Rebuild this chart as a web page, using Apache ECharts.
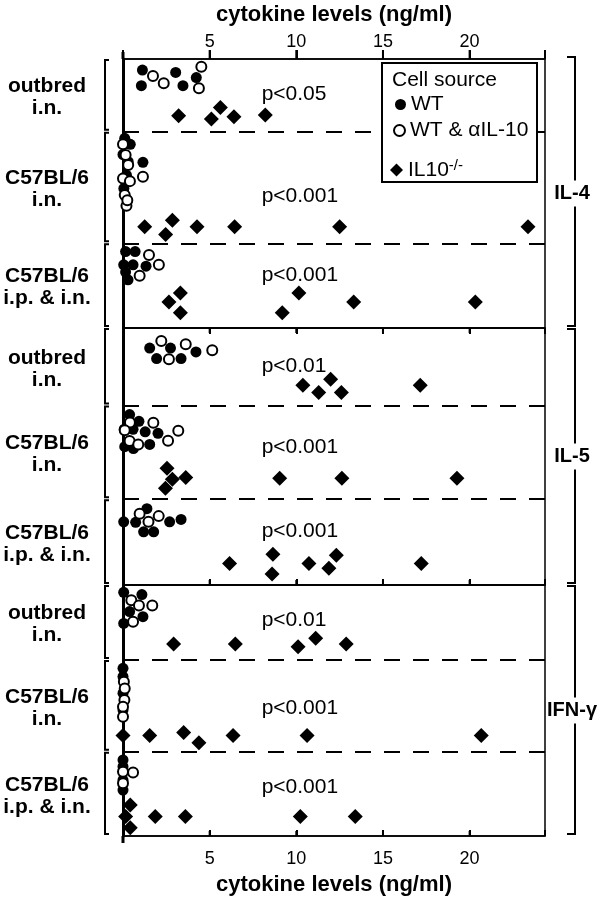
<!DOCTYPE html>
<html><head><meta charset="utf-8">
<script src="https://cdn.jsdelivr.net/npm/echarts@6/dist/echarts.min.js"></script>
<style>html,body{margin:0;padding:0;background:#fff}#c{width:612px;height:899px}</style>
</head><body><div id="c"></div>
<script>
// ---------- data ----------
const xTicks = [5, 10, 15, 20];
const panels = ['IL-4', 'IL-5', 'IFN-γ'];
const groups = ['outbred\ni.n.', 'C57BL/6\ni.n.', 'C57BL/6\ni.p. & i.n.'];
// lane boundaries inside each panel (0 = top, 100 = bottom)
const dividers = [[27.0, 68.5], [30.2, 66.6], [29.9, 66.4]];
const pLabels = [['p<0.05', 'p<0.001', 'p<0.001'], ['p<0.01', 'p<0.001', 'p<0.001'], ['p<0.01', 'p<0.001', 'p<0.001']];
const pLabelLane = [[13.0, 51.0, 80.4], [14.9, 46.2, 78.9], [13.9, 49.1, 80.4]];
const pLabelX = 8;

// [cytokine level ng/ml, lane position]
const IL4_WT = [[1.12,4.1],[1.06,9.9],[3.04,5.0],[3.46,9.9],[4.23,6.9],
  [0.1,29.5],[0.42,31.7],[0.0,35.5],[0.3,38.2],[0.05,48.1],[1.15,38.4],[0.2,43.2],
  [0.15,71.6],[0.7,71.6],[0.04,76.5],[0.58,76.5],[1.33,77.0],[0.29,82.1],[0.15,79.2]];
const IL4_aIL10 = [[1.73,6.3],[2.35,9.0],[4.52,2.9],[4.38,10.9],
  [0.0,31.7],[0.15,35.7],[0.3,39.4],[0.0,44.4],[0.4,45.4],[1.15,43.8],[0.1,50.6],[0.2,54.6],[0.25,52.5],
  [1.5,72.9],[2.07,76.5],[0.96,80.6]];
const IL4_KO = [[3.21,21.1],[5.1,22.3],[5.62,18.0],[6.4,21.5],[8.21,20.8],
  [1.25,62.4],[2.46,65.2],[2.85,59.9],[4.27,62.4],[6.44,62.4],[12.5,62.4],[23.37,62.4],
  [2.65,90.3],[3.31,87.0],[3.31,94.3],[9.19,94.3],[10.15,87.0],[13.31,90.3],[20.33,90.3]];

const IL5_WT = [[1.54,7.8],[1.94,11.9],[2.74,7.8],[3.35,11.9],[4.21,9.3],
  [0.38,33.7],[0.92,36.3],[0.07,39.4],[0.58,39.4],[1.28,40.4],[2.02,41.0],[0.1,46.2],[0.6,46.9],[1.54,45.3],
  [0.04,75.4],[0.73,75.6],[1.38,70.3],[1.19,79.3],[1.77,79.3],[2.69,75.4],[3.35,74.5]];
const IL5_aIL10 = [[2.21,5.1],[2.65,12.2],[3.62,6.3],[5.15,8.7],
  [0.4,36.8],[1.75,36.9],[3.19,40.0],[0.38,44.0],[0.88,45.3],[2.6,43.9],[0.1,39.8],
  [0.96,72.3],[1.47,75.4],[2.06,73.2]];
const IL5_KO = [[10.38,22.3],[11.29,25.1],[11.98,19.9],[12.6,25.1],[17.15,22.3],
  [2.54,54.6],[2.85,58.9],[2.45,62.4],[3.62,58.2],[9.04,58.5],[12.63,58.5],[19.27,58.5],
  [6.15,91.6],[8.65,88.0],[8.6,95.7],[10.73,91.6],[11.88,93.5],[12.31,88.4],[17.21,91.6]];

const IFN_WT = [[0.04,2.9],[1.09,3.8],[0.38,10.6],[1.15,12.6],[0.04,15.3],
  [0,33.2],[0,36.5],[0,43.1],[0,49.8],
  [0,69.7],[0,72.4],[0,77.7],[0,81.7]];
const IFN_aIL10 = [[0.48,6.1],[0.92,8.2],[1.69,8.2],[0.58,14.6],
  [0.05,38.5],[0.1,41.2],[0.08,45.8],[0,48.5],[0,52.5],
  [0,74.4],[0,79.0],[0.58,74.7]];
const IFN_KO = [[2.92,23.5],[6.48,23.5],[10.1,24.6],[11.12,21.2],[12.88,23.5],
  [0,60.0],[1.54,60.0],[3.5,58.8],[4.38,62.8],[6.35,60.0],[10.62,60.0],[20.67,60.0],
  [0.42,87.6],[0.15,92.2],[0.42,96.7],[1.86,92.2],[3.6,92.2],[10.23,92.2],[13.4,92.2]];

const seriesNames = ['WT', 'WT & αIL-10', 'IL10-/-'];
const panelData = [[IL4_WT, IL4_aIL10, IL4_KO], [IL5_WT, IL5_aIL10, IL5_KO], [IFN_WT, IFN_aIL10, IFN_KO]];

// ---------- layout ----------
const FONT = '"Liberation Sans", Arial, Helvetica, sans-serif';
const XMAX = 24.35;
const gridTops = [59, 328, 585];
const gridHeights = [269, 257, 251];
const LEFT = 123, RIGHT = 67;

const chart = echarts.init(document.getElementById('c'), null, {renderer: 'canvas'});

const grids = gridTops.map((t, i) => ({
  left: LEFT, right: RIGHT, top: t, height: gridHeights[i],
  show: true, borderColor: '#000', borderWidth: 1.5, backgroundColor: 'transparent'
}));

const tickStyle = {color: '#000', width: 2};
const baseX = {
  type: 'value', min: 0, max: XMAX, interval: 5,
  axisLine: {show: true, onZero: false, lineStyle: {color: '#000', width: 1.5}},
  splitLine: {show: false},
  axisTick: {show: true, inside: true, length: 6, lineStyle: tickStyle},
  axisLabel: {show: false}
};
const labelStyle = {show: true, fontSize: 18, color: '#000', fontFamily: FONT,
  formatter: v => xTicks.indexOf(v) >= 0 ? String(v) : ''};
const nameStyle = {fontSize: 22, fontWeight: 'bold', color: '#000', fontFamily: FONT};

const xAxes = [
  Object.assign({}, baseX, {gridIndex: 0, position: 'top',
    axisTick: {show: true, inside: false, length: 9, lineStyle: tickStyle},
    axisLabel: Object.assign({}, labelStyle, {margin: 8}),
    name: 'cytokine levels (ng/ml)', nameLocation: 'middle', nameGap: 33, nameTextStyle: nameStyle}),
  Object.assign({}, baseX, {gridIndex: 1, position: 'top'}),
  Object.assign({}, baseX, {gridIndex: 1, position: 'bottom'}),
  Object.assign({}, baseX, {gridIndex: 2, position: 'bottom',
    axisLabel: Object.assign({}, labelStyle, {margin: 14}),
    name: 'cytokine levels (ng/ml)', nameLocation: 'middle', nameGap: 38, nameTextStyle: nameStyle})
];
const xIdx = [0, 1, 3];

const yAxes = [0, 1, 2].map(i => ({
  type: 'value', gridIndex: i, min: 0, max: 100, inverse: true, position: 'left',
  axisLine: {show: true, onZero: false, lineStyle: {color: '#000', width: 3}},
  axisTick: {show: false}, axisLabel: {show: false}, splitLine: {show: false}
}));

const symStyles = [
  {symbol: 'circle', symbolSize: 11, itemStyle: {color: '#000', opacity: 1}},
  {symbol: 'circle', symbolSize: 10, itemStyle: {color: '#fff', borderColor: '#000', borderWidth: 2, opacity: 1}},
  {symbol: 'diamond', symbolSize: 15, itemStyle: {color: '#000', opacity: 1}}
];

const series = [];
for (let i = 0; i < 3; i++) {
  [2, 0, 1].forEach(k => {
    const s = Object.assign({
      type: 'scatter', name: seriesNames[k], xAxisIndex: xIdx[i], yAxisIndex: i,
      data: panelData[i][k], clip: false, silent: true, z: 3,
      emphasis: {disabled: true}
    }, symStyles[k]);
    if (k === 2) {
      s.markLine = {
        silent: true, symbol: 'none', label: {show: false},
        lineStyle: {type: [16, 13], width: 2, color: '#000', opacity: 1},
        emphasis: {disabled: true},
        data: dividers[i].map(v => ({yAxis: v}))
      };
    }
    series.push(s);
  });
}

const legendCommon = {
  orient: 'horizontal', itemWidth: 11, itemHeight: 11, padding: 0, selectedMode: false, z: 100,
  textStyle: {fontSize: 21, color: '#000', fontFamily: FONT,
    rich: {n: {fontSize: 21, fontFamily: FONT, color: '#000', lineHeight: 24},
           s: {fontSize: 15, fontFamily: FONT, color: '#000', verticalAlign: 'top', lineHeight: 14}}},
  formatter: name => name === 'IL10-/-' ? '{n|IL10}{s|-/-}' : name
};
const legends = [
  Object.assign({}, legendCommon, {data: ['WT'], left: 395, top: 94}),
  Object.assign({}, legendCommon, {data: ['WT & αIL-10'], left: 393, top: 120}),
  Object.assign({}, legendCommon, {data: ['IL10-/-'], left: 390, top: 158, itemWidth: 13, itemHeight: 13})
];

chart.setOption({
  animation: false,
  backgroundColor: '#fff',
  textStyle: {fontFamily: FONT},
  grid: grids, xAxis: xAxes, yAxis: yAxes, series: series, legend: legends
});

// ---------- decorations (ticks, labels, brackets, legend box) ----------
const gfx = [];
const x0 = chart.convertToPixel({xAxisIndex: 0}, 0);
gfx.push({type: 'line', z: 4, shape: {x1: x0, y1: gridTops[0] - 7, x2: x0, y2: gridTops[0]}, style: {stroke: '#000', lineWidth: 3}});
const yEnd = gridTops[2] + gridHeights[2];
gfx.push({type: 'line', z: 4, shape: {x1: x0, y1: yEnd, x2: x0, y2: yEnd + 7}, style: {stroke: '#000', lineWidth: 3}});

// tick marks: [axis index, y of axis line, direction & length]
const tickRows = [[0, gridTops[0], -9], [1, gridTops[1], 5], [2, gridTops[2], -5], [3, yEnd, -5]];
tickRows.forEach(([ax, y, len]) => {
  xTicks.forEach(v => {
    const tx = chart.convertToPixel({xAxisIndex: ax}, v);
    gfx.push({type: 'line', z: 4, shape: {x1: tx, y1: y, x2: tx, y2: y + len}, style: {stroke: '#000', lineWidth: 2}});
  });
});

for (let i = 0; i < 3; i++) {
  const b = [0].concat(dividers[i], [100]);
  const px = chart.convertToPixel({xAxisIndex: xIdx[i]}, pLabelX);
  for (let j = 0; j < 3; j++) {
    const yT = chart.convertToPixel({yAxisIndex: i}, b[j]);
    const yB = chart.convertToPixel({yAxisIndex: i}, b[j + 1]);
    gfx.push({type: 'polyline', z: 4, shape: {points: [[109, yT + 1], [105, yT + 1], [105, yB - 2], [109, yB - 2]]},
      style: {stroke: '#000', lineWidth: 2, fill: null}});
    gfx.push({type: 'text', z: 4, x: 47, y: (yT + yB) / 2 + 2,
      style: {text: groups[j], font: 'bold 21px ' + FONT, fontSize: 21, fontWeight: 'bold', fontFamily: FONT,
        textAlign: 'center', align: 'center', textVerticalAlign: 'middle', verticalAlign: 'middle', lineHeight: 22, fill: '#000'}});
    const py = chart.convertToPixel({yAxisIndex: i}, pLabelLane[i][j]);
    gfx.push({type: 'text', z: 4, x: px, y: py,
      style: {text: pLabels[i][j], font: '21px ' + FONT, fontSize: 21, fontFamily: FONT,
        textAlign: 'left', align: 'left', textVerticalAlign: 'middle', verticalAlign: 'middle', fill: '#000'}});
  }
  const pT = gridTops[i], pB = gridTops[i] + gridHeights[i];
  gfx.push({type: 'polyline', z: 4, shape: {points: [[567, pT + (i === 0 ? -2 : 1)], [575, pT + (i === 0 ? -2 : 1)], [575, pB - 2], [567, pB - 2]]},
    style: {stroke: '#000', lineWidth: 2, fill: null}});
  gfx.push({type: 'text', z: 6, x: 572, y: (pT + pB) / 2,
    style: {text: panels[i], font: 'bold 20px ' + FONT, fontSize: 20, fontWeight: 'bold', fontFamily: FONT,
      textAlign: 'center', align: 'center', textVerticalAlign: 'middle', verticalAlign: 'middle', fill: '#000',
      backgroundColor: '#fff', padding: [3, 1]}});
}

// legend box
gfx.push({type: 'rect', z: 50, shape: {x: 382, y: 63, width: 155, height: 119},
  style: {fill: '#fff', stroke: '#000', lineWidth: 2}});
gfx.push({type: 'text', z: 101, x: 392, y: 80,
  style: {text: 'Cell source', font: '21px ' + FONT, fontSize: 21, fontFamily: FONT,
    textAlign: 'left', align: 'left', textVerticalAlign: 'middle', verticalAlign: 'middle', fill: '#000'}});

chart.setOption({graphic: {elements: gfx}});
</script>
</body></html>
